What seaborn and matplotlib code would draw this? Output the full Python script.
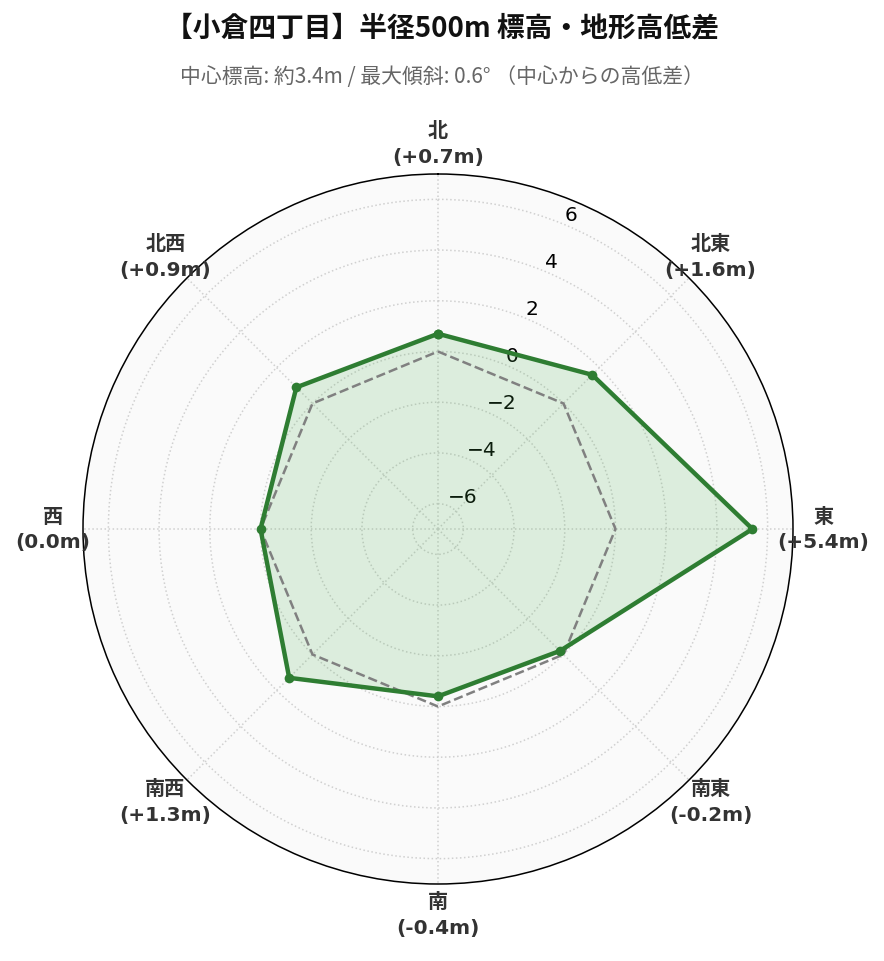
import numpy as np
import pandas as pd
import matplotlib
matplotlib.use("Agg")
import matplotlib.pyplot as plt
import seaborn as sns

directions = ["北", "北東", "東", "南東", "南", "南西", "西", "北西"]
diffs = [0.7, 1.6, 5.4, -0.2, -0.4, 1.3, 0.0, 0.9]
rticks = [-6, -4, -2, 0, 2, 4, 6]
title = "【小倉四丁目】半径500m 標高・地形高低差"
subtitle = "中心標高: 約3.4m / 最大傾斜: 0.6° （中心からの高低差）"

sns.set_style("white")
plt.rcParams['font.family'] = ['DejaVu Sans', 'Noto Sans CJK JP']
cjk = ['Noto Sans CJK JP', 'DejaVu Sans']

theta = np.linspace(0, 2 * np.pi, len(directions), endpoint=False)
df = pd.DataFrame({"theta": np.append(theta, 2 * np.pi),
                   "diff": diffs + diffs[:1]})

fig = plt.figure(figsize=(8.84, 9.62), dpi=100)
ax = fig.add_axes([83 / 884, 77 / 962, 710 / 884, 710 / 962], projection="polar")
ax.set_facecolor("#fafafa")
ax.set_theta_zero_location("N")
ax.set_theta_direction(-1)
ax.set_ylim(-7, 7)

# zero reference line
ax.plot(df["theta"], np.zeros(len(df)), color="gray", ls="--", lw=1.8, zorder=2)
ax.fill(df["theta"], df["diff"], color="#4caf50", alpha=0.17, lw=0, zorder=1)
sns.lineplot(data=df, x="theta", y="diff", sort=False, ax=ax, color="#2e7d32",
             lw=3.2, marker="o", markersize=7, markeredgewidth=0, zorder=3)

ax.set_xticks(theta)
ax.set_xticklabels([])
ax.set_yticks(rticks)
ax.set_yticklabels([str(t).replace("-", "\u2212") for t in rticks], fontsize=14.5,
                   color="black")
ax.set_xlabel("")
ax.set_ylabel("")
ax.grid(True, color="#d0d0d0", ls=":", lw=1.1)
ax.spines["polar"].set_color("black")
ax.spines["polar"].set_linewidth(1.1)

for t, name, v in zip(theta, directions, diffs):
    lab = f"{name}\n({v:+.1f}m)" if v != 0 else f"{name}\n(0.0m)"
    ax.text(t, 8.2, lab, ha="center", va="center", fontsize=14.5, fontweight="bold",
            color="#333333", linespacing=1.45, clip_on=False)

fig.text(0.5, 1 - 28 / 962, title, ha="center", va="center", fontsize=20,
         fontweight="bold", family=cjk, color="#111111")
fig.text(0.5, 1 - 77 / 962, subtitle, ha="center", va="center", fontsize=15,
         family=cjk, color="#666666")

fig.savefig("out.png", dpi=100, facecolor="white")
